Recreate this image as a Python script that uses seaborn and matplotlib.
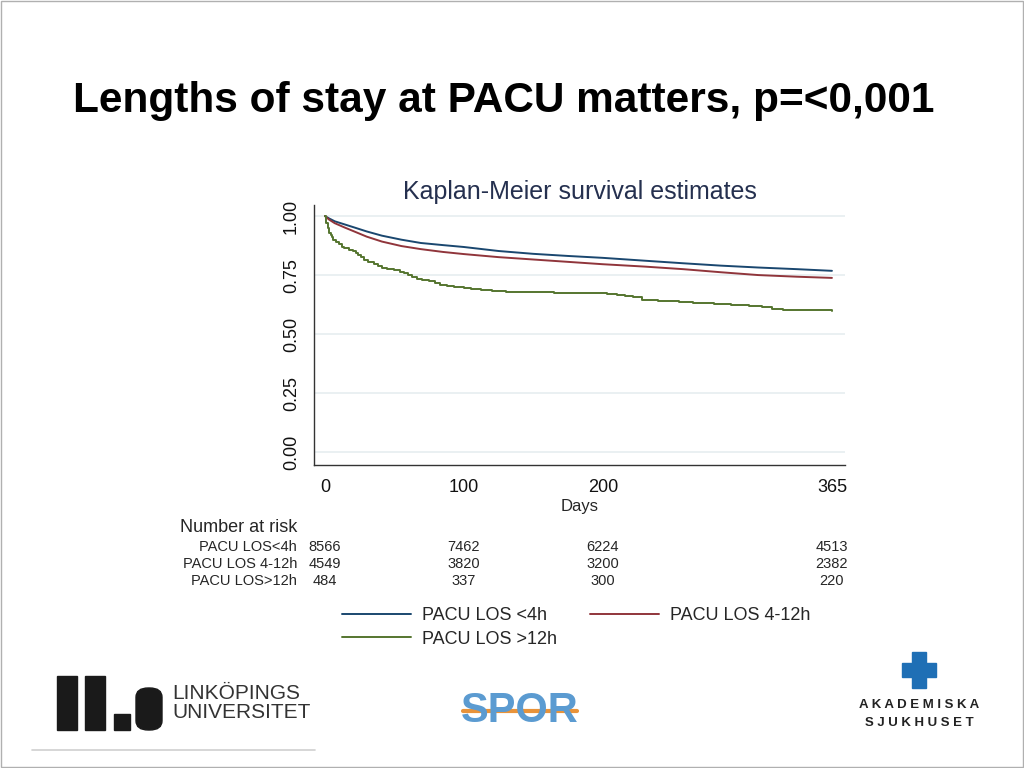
import numpy as np
import pandas as pd
import matplotlib
matplotlib.use("Agg")
import matplotlib.pyplot as plt
import matplotlib.patches as mpatches
from matplotlib.lines import Line2D
from matplotlib.transforms import blended_transform_factory
import seaborn as sns

# Kaplan-Meier estimates
blue_days = [0, 3, 7, 14, 21, 30, 41, 55, 69, 85, 100, 125, 150, 175, 200, 230, 258, 285, 312, 340, 365]
blue_surv = [1.0, 0.99, 0.978, 0.965, 0.952, 0.935, 0.917, 0.9, 0.886, 0.877, 0.869, 0.852, 0.84,
             0.831, 0.823, 0.811, 0.80, 0.79, 0.782, 0.775, 0.768]
red_days = blue_days
red_surv = [1.0, 0.985, 0.97, 0.952, 0.935, 0.913, 0.892, 0.873, 0.86, 0.848, 0.839, 0.826, 0.816,
            0.806, 0.796, 0.786, 0.775, 0.762, 0.75, 0.743, 0.738]
green_days = [0, 1, 2, 3, 4, 5, 6, 8, 10, 12, 14, 17, 20, 22, 24, 26, 28, 31, 35, 38,
              41, 45, 50, 54, 57, 60, 63, 66, 70, 75, 79, 83, 88, 93, 100, 105, 112, 120, 130, 150,
              165, 180, 195, 203, 210, 216, 222, 228, 240, 255, 265, 280, 292, 305, 315, 322, 330, 365]
green_surv = [1.0, 0.97, 0.95, 0.93, 0.92, 0.91, 0.90, 0.89, 0.88, 0.87,
              0.865, 0.855, 0.85, 0.845, 0.835, 0.825, 0.815, 0.805, 0.795, 0.79,
              0.78, 0.775, 0.773, 0.765, 0.757, 0.75, 0.742, 0.735, 0.73, 0.725,
              0.715, 0.708, 0.702, 0.698, 0.694, 0.69, 0.686, 0.681, 0.679, 0.677,
              0.675, 0.674, 0.672, 0.668, 0.665, 0.66, 0.655, 0.645, 0.642, 0.637,
              0.633, 0.627, 0.624, 0.62, 0.615, 0.608, 0.6, 0.598]

groups = ["PACU LOS <4h", "PACU LOS 4-12h", "PACU LOS >12h"]
colors = ["#1a476f", "#90353b", "#55752f"]

# number at risk table
risk_days = [0, 100, 200, 365]
risk_labels = ["PACU LOS<4h", "PACU LOS 4-12h", "PACU LOS>12h"]
risk_lt4 = [8566, 7462, 6224, 4513]
risk_4to12 = [4549, 3820, 3200, 2382]
risk_gt12 = [484, 337, 300, 220]

sns.set_style("white")
plt.rcParams["font.family"] = ["Liberation Sans", "DejaVu Sans"]

fig = plt.figure(figsize=(10.24, 7.68), dpi=100)

# slide frame
fig.patches.append(mpatches.Rectangle((0.001, 0.001), 0.998, 0.998, transform=fig.transFigure,
                                      fill=False, edgecolor="#b0b0b0", lw=1))

fig.text(73 / 1024, 1 - 101 / 768, "Lengths of stay at PACU matters, p=<0,001",
         fontsize=30.5, fontweight="bold", va="center", ha="left", color="black")

ax = fig.add_axes([314 / 1024, 1 - 465 / 768, 531 / 1024, 260 / 768])

df_blue = pd.DataFrame({"Days": blue_days, "Survival": blue_surv})
df_red = pd.DataFrame({"Days": red_days, "Survival": red_surv})
df_green = pd.DataFrame({"Days": green_days, "Survival": green_surv})

for yv in [0.0, 0.25, 0.5, 0.75, 1.0]:
    ax.axhline(yv, color="#e6eef0", lw=1.2, zorder=0)

sns.lineplot(data=df_blue, x="Days", y="Survival", color=colors[0], lw=1.4, ax=ax)
sns.lineplot(data=df_red, x="Days", y="Survival", color=colors[1], lw=1.4, ax=ax)
sns.lineplot(data=df_green, x="Days", y="Survival", color=colors[2], lw=1.4,
             drawstyle="steps-post", ax=ax)

ax.set_xlim(-7.9, 374.4)
ax.set_ylim(-0.055, 1.047)
ax.set_xticks([0, 100, 200, 365])
ax.set_yticks([0, 0.25, 0.5, 0.75, 1.0])
ax.set_yticklabels(["0.00", "0.25", "0.50", "0.75", "1.00"], rotation=90, va="center")
ax.tick_params(axis="both", direction="out", length=6, width=1, color="#333333",
               labelsize=13, labelcolor="#111111", pad=4)
ax.set_xlabel("Days", fontsize=12, labelpad=2)
ax.set_ylabel("")
ax.set_title("Kaplan-Meier survival estimates", fontsize=18, color="#25304f", pad=4)
for s in ["top", "right"]:
    ax.spines[s].set_visible(False)
for s in ["left", "bottom"]:
    ax.spines[s].set_color("#333333")
    ax.spines[s].set_linewidth(1)

# number at risk
trans = blended_transform_factory(ax.transData, fig.transFigure)
fig.text(180 / 1024, 1 - 528 / 768, "Number at risk", fontsize=13, va="center", ha="left")
row_y = [547, 564, 581]
for lab, vals, yy in zip(risk_labels, [risk_lt4, risk_4to12, risk_gt12], row_y):
    fig.text(297 / 1024, 1 - yy / 768, lab, fontsize=10.5, va="center", ha="right")
    for d, v in zip(risk_days, vals):
        ax.text(d, 1 - yy / 768, str(v), transform=trans, fontsize=10.5, va="center",
                ha="center", clip_on=False)

# legend
handles = [Line2D([], [], color=colors[0], lw=1.4), Line2D([], [], color=colors[2], lw=1.4),
           Line2D([], [], color=colors[1], lw=1.4)]
labels = [groups[0], groups[2], groups[1]]
fig.legend(handles, labels, loc="upper left", bbox_to_anchor=(326 / 1024, 1 - 591 / 768),
           ncol=2, frameon=False, fontsize=13, handlelength=3.8, handletextpad=0.6,
           columnspacing=1.85, labelspacing=0.35)

# logos (approximate)
lx = [(57, 20), (85, 20), (114, 16)]
for x0, w in lx:
    h = 54 if x0 < 110 else 16
    fig.patches.append(mpatches.Rectangle((x0 / 1024, 1 - 730 / 768), w / 1024, h / 768,
                                          transform=fig.transFigure, color="#1a1a1a"))
fig.patches.append(mpatches.FancyBboxPatch((136 / 1024, 1 - 730 / 768), 26 / 1024, 42 / 768,
                                           boxstyle="round,pad=0,rounding_size=0.012",
                                           transform=fig.transFigure, color="#1a1a1a"))
fig.text(172 / 1024, 1 - 703 / 768, "LINKÖPINGS\nUNIVERSITET", fontsize=15, color="#333333",
         va="center", ha="left", linespacing=1.05)
fig.add_artist(Line2D([32 / 1024, 315 / 1024], [1 - 750 / 768, 1 - 750 / 768],
                      transform=fig.transFigure, color="#d0d0d0", lw=1.2))
fig.add_artist(Line2D([463 / 1024, 577 / 1024], [1 - 711 / 768, 1 - 711 / 768],
                      transform=fig.transFigure, color="#e8933a", lw=3, zorder=0))
fig.text(520 / 1024, 1 - 711 / 768, "SPOR", fontsize=30, fontweight="bold", color="#5b9bd1",
         va="center", ha="center", zorder=1)
fig.patches.append(mpatches.Rectangle((912 / 1024, 1 - 688 / 768), 14 / 1024, 36 / 768,
                                      transform=fig.transFigure, color="#1f6fb5"))
fig.patches.append(mpatches.Rectangle((902 / 1024, 1 - 677 / 768), 34 / 1024, 14 / 768,
                                      transform=fig.transFigure, color="#1f6fb5"))
fig.text(919 / 1024, 1 - 714 / 768, "A K A D E M I S K A\nS J U K H U S E T", fontsize=9.5,
         fontweight="bold", color="#222222", va="center", ha="center", linespacing=1.7)

fig.savefig("out.png", dpi=100)
